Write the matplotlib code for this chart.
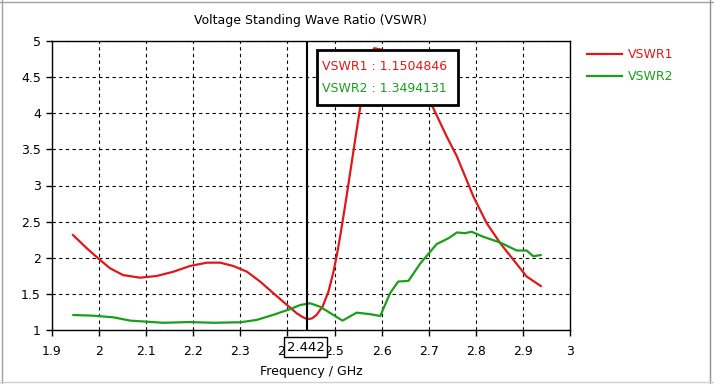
import matplotlib
matplotlib.use("Agg")
import matplotlib.pyplot as plt
from matplotlib.lines import Line2D
from matplotlib.patches import Rectangle

# ---- data ----
freq1 = [1.943, 1.974, 2.002, 2.023, 2.051, 2.087, 2.122, 2.158, 2.193, 2.229, 2.257,
         2.285, 2.314, 2.342, 2.370, 2.399, 2.420, 2.432, 2.442, 2.452, 2.462, 2.475,
         2.487, 2.497, 2.505, 2.512, 2.519, 2.526, 2.533, 2.540, 2.547, 2.554, 2.562,
         2.570, 2.577, 2.584, 2.600, 2.630, 2.660, 2.690, 2.709, 2.738, 2.760, 2.795,
         2.823, 2.852, 2.880, 2.908, 2.940]
vswr1 = [2.325, 2.13, 1.97, 1.855, 1.76, 1.724, 1.747, 1.807, 1.886, 1.932, 1.932,
         1.886, 1.807, 1.67, 1.51, 1.346, 1.23, 1.18, 1.15, 1.16, 1.21, 1.33,
         1.53, 1.785, 2.04, 2.30, 2.58, 2.87, 3.17, 3.47, 3.77, 4.06, 4.36,
         4.62, 4.80, 4.90, 4.88, 4.72, 4.50, 4.25, 4.08, 3.68, 3.40, 2.845,
         2.48, 2.20, 1.97, 1.74, 1.60]

freq2 = [1.943, 1.988, 2.030, 2.066, 2.101, 2.136, 2.193, 2.243, 2.300, 2.335, 2.370,
         2.406, 2.427, 2.448, 2.469, 2.497, 2.517, 2.547, 2.575, 2.597, 2.618, 2.635,
         2.657, 2.682, 2.717, 2.742, 2.760, 2.777, 2.791, 2.816, 2.852, 2.887, 2.908,
         2.922, 2.940]
vswr2 = [1.208, 1.198, 1.176, 1.13, 1.115, 1.10, 1.11, 1.10, 1.107, 1.14, 1.21,
         1.29, 1.346, 1.37, 1.323, 1.21, 1.13, 1.24, 1.22, 1.194, 1.51, 1.67,
         1.68, 1.92, 2.19, 2.27, 2.35, 2.34, 2.36, 2.29, 2.21, 2.10, 2.10,
         2.02, 2.04]

series_names = ["VSWR1", "VSWR2"]
marker_freq = 2.442
marker_values = ["1.1504846", "1.3494131"]
xticks = [1.9, 2, 2.1, 2.2, 2.3, 2.4, 2.5, 2.6, 2.7, 2.8, 2.9, 3]
xticklabels = ["1.9", "2", "2.1", "2.2", "2.3", "2.4", "2.5", "2.6", "2.7", "2.8", "2.9", "3"]
yticks = [1, 1.5, 2, 2.5, 3, 3.5, 4, 4.5, 5]
yticklabels = ["1", "1.5", "2", "2.5", "3", "3.5", "4", "4.5", "5"]

RED = "#e01818"
GREEN = "#18a018"
W, H = 714, 384

plt.rcParams["font.family"] = ["DejaVu Sans"]
fig = plt.figure(figsize=(W / 100, H / 100), dpi=100)
fig.patch.set_facecolor("white")

ax = fig.add_axes([52 / W, 1 - 330 / H, (570 - 52) / W, (330 - 41) / H])
ax.set_xlim(1.9, 3.0)
ax.set_ylim(1, 5)
ax.set_xticks(xticks)
ax.set_xticklabels(xticklabels)
ax.set_yticks(yticks)
ax.set_yticklabels(yticklabels)
ax.tick_params(direction="out", length=4, width=1, labelsize=9, colors="black")
ax.tick_params(axis="x", pad=7)
ax.tick_params(axis="y", pad=4)
ax.grid(True, color="black", linestyle=(0, (3, 3)), linewidth=0.8)
for s in ax.spines.values():
    s.set_linewidth(1.0)
    s.set_color("black")

ax.plot(freq1, vswr1, color=RED, lw=1.6, solid_capstyle="butt", zorder=3)
ax.plot(freq2, vswr2, color=GREEN, lw=1.6, solid_capstyle="butt", zorder=3)

ax.axvline(marker_freq, color="black", lw=1.5, zorder=4)

ax.set_title("Voltage Standing Wave Ratio (VSWR)", fontsize=9, pad=12)
ax.set_xlabel("Frequency / GHz", fontsize=9, labelpad=5)

# tooltip box
tx0, ty0, tx1, ty1 = 317, 50, 458, 105
fig.patches.append(Rectangle((tx0 / W, 1 - ty1 / H), (tx1 - tx0) / W, (ty1 - ty0) / H,
                             transform=fig.transFigure, facecolor="white",
                             edgecolor="black", lw=2, zorder=10))
fig.text(322 / W, 1 - 66 / H, f"{series_names[0]} : {marker_values[0]}", color=RED,
         fontsize=9, va="center", ha="left", zorder=11)
fig.text(322 / W, 1 - 88 / H, f"{series_names[1]} : {marker_values[1]}", color=GREEN,
         fontsize=9, va="center", ha="left", zorder=11)

# marker label on axis
mx0, my0, mx1, my1 = 284, 337, 327, 357
fig.patches.append(Rectangle((mx0 / W, 1 - my1 / H), (mx1 - mx0) / W, (my1 - my0) / H,
                             transform=fig.transFigure, facecolor="white",
                             edgecolor="black", lw=1, zorder=10))
fig.text((mx0 + mx1) / 2 / W, 1 - 347.5 / H, f"{marker_freq:.3f}", fontsize=9.5,
         ha="center", va="center", zorder=11)

# legend
for i, (name, col) in enumerate(zip(series_names, [RED, GREEN])):
    y = 1 - (54 + 22 * i) / H
    fig.add_artist(Line2D([587 / W, 622 / W], [y, y], transform=fig.transFigure,
                          color=col, lw=1.6))
    fig.text(628 / W, y, name, color=col, fontsize=9, va="center", ha="left")

# window frame
fig.add_artist(Line2D([1.5 / W, 1.5 / W], [0, 1], transform=fig.transFigure, color="#a0a0a0", lw=1))
fig.add_artist(Line2D([0, 1], [1 - 1.5 / H, 1 - 1.5 / H], transform=fig.transFigure, color="#a0a0a0", lw=1))
fig.add_artist(Line2D([709.5 / W, 709.5 / W], [0, 1], transform=fig.transFigure, color="#909090", lw=1))
fig.add_artist(Line2D([0, 1], [1 - 381.5 / H, 1 - 381.5 / H], transform=fig.transFigure, color="#d0d0d0", lw=1))

fig.savefig("out.png", dpi=100, facecolor="white")
